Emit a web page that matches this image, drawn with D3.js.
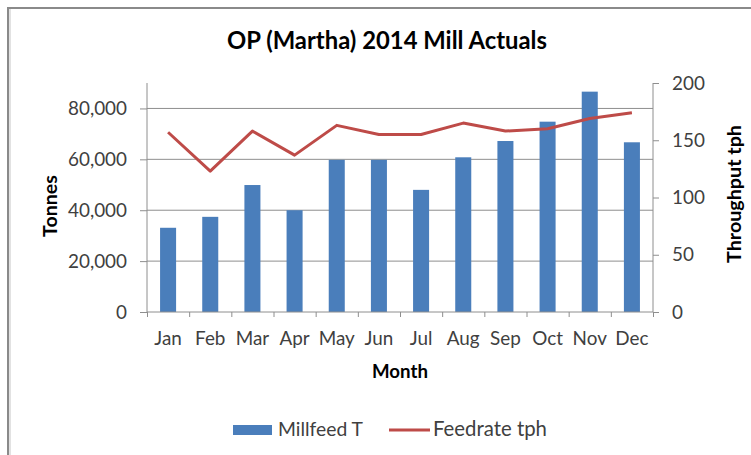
<!DOCTYPE html>
<html><head><meta charset="utf-8">
<script src="https://cdn.jsdelivr.net/npm/d3@7/dist/d3.min.js"></script>
<style>body{margin:0;background:#fff}text{font-family:Lato,"Open Sans",sans-serif}</style>
</head><body>
<svg id="c" width="751" height="455"></svg>
<script>
const months = ["Jan","Feb","Mar","Apr","May","Jun","Jul","Aug","Sep","Oct","Nov","Dec"];
const millfeed = [33100, 37400, 49900, 40000, 59800, 59800, 48000, 60800, 67200, 74800, 86600, 66700];
const feedrate = [157, 123, 158, 137, 163, 155, 155, 165, 158, 160, 169, 174];
const leftTicks = [0, 20000, 40000, 60000, 80000];
const rightTicks = [0, 50, 100, 150, 200];
const titleText = "OP (Martha) 2014 Mill Actuals";
const xTitle = "Month", yLeftTitle = "Tonnes", yRightTitle = "Throughput tph";
const seriesNames = ["Millfeed T", "Feedrate tph"];

const svg = d3.select("#c");
const L = 147, R = 653, T = 83, B = 312;
const barColor = "#4a7ebb", lineColor = "#be4b48", gridColor = "#8e8e8e", tickText = "#404040";

function fit(sel, w) {
  const n = sel.node();
  const fs = parseFloat(sel.attr("font-size"));
  const cur = n.getComputedTextLength();
  sel.attr("font-size", (fs * w / cur).toFixed(2));
  return fs * w / cur;
}

// frame
svg.append("rect").attr("x", 8).attr("y", 8).attr("width", 760).attr("height", 470)
  .attr("fill", "#fff").attr("stroke", "#8a8a8a").attr("stroke-width", 2);
svg.append("line").attr("x1", 10).attr("x2", 10).attr("y1", 9).attr("y2", 455).attr("stroke", "#d8d8d8").attr("stroke-width", 1.5);

const x = d3.scaleBand().domain(months).range([L, R]).paddingInner(0.62).paddingOuter(0.31);
const xb = d3.scaleLinear().domain([0, months.length]).range([L, R]);
const yL = d3.scaleLinear().domain([0, 90000]).range([B, T]);
const yR = d3.scaleLinear().domain([0, 200]).range([B, T]);

// gridlines
svg.append("g").selectAll("line").data(leftTicks.filter(d => d > 0)).join("line")
  .attr("x1", L).attr("x2", R).attr("y1", d => yL(d)).attr("y2", d => yL(d))
  .attr("stroke", gridColor).attr("stroke-width", 1);

// bars
svg.append("g").selectAll("rect").data(months).join("rect")
  .attr("x", d => x(d)).attr("width", x.bandwidth())
  .attr("y", (d, i) => yL(millfeed[i])).attr("height", (d, i) => B - yL(millfeed[i]))
  .attr("fill", barColor);

// line
const line = d3.line().x((d, i) => x(months[i]) + x.bandwidth() / 2).y(d => yR(d));
svg.append("path").datum(feedrate).attr("d", line).attr("fill", "none")
  .attr("stroke", lineColor).attr("stroke-width", 3).attr("stroke-linejoin", "round");

function styleAxis(g) {
  g.selectAll("path,line").attr("stroke", gridColor).attr("stroke-width", 1);
  g.selectAll("text").attr("fill", tickText).attr("font-size", 17).attr("font-family", "Lato");
}

// left axis
const gl = svg.append("g").attr("transform", `translate(${L},0)`)
  .call(d3.axisLeft(yL).tickValues(leftTicks).tickSize(7).tickSizeOuter(0).tickPadding(13).tickFormat(d3.format(",")));
gl.select(".domain").attr("d", `M0,${T}V${B}`);
styleAxis(gl);
// right axis
const gr = svg.append("g").attr("transform", `translate(${R},0)`)
  .call(d3.axisRight(yR).tickValues(rightTicks).tickSize(6).tickSizeOuter(0).tickPadding(13));
gr.select(".domain").attr("d", `M0,${T}V${B}`);
styleAxis(gr);
// bottom boundary ticks
const gb = svg.append("g").attr("transform", `translate(0,${B})`)
  .call(d3.axisBottom(xb).tickValues(d3.range(months.length + 1)).tickSize(5).tickSizeOuter(0).tickFormat(""));
gb.select(".domain").attr("d", `M${L},0H${R}`);
styleAxis(gb);
// bottom labels
const gx = svg.append("g").attr("transform", `translate(0,${B})`)
  .call(d3.axisBottom(x).tickSize(0).tickPadding(20));
gx.select(".domain").remove();
styleAxis(gx);

// fit tick font size
const probe = gl.selectAll("text").filter(d => d === 80000);
const fs = fit(probe, 59);
svg.selectAll(".tick text").attr("font-size", fs.toFixed(2));

// title
const tt = svg.append("text").attr("x", 387).attr("y", 49).attr("text-anchor", "middle")
  .attr("font-weight", "bold").attr("font-size", 21).attr("fill", "#000").text(titleText);
fit(tt, 320);
// axis titles
const mt = svg.append("text").attr("x", 400).attr("y", 378).attr("text-anchor", "middle")
  .attr("font-weight", "bold").attr("font-size", 16).attr("fill", "#000").text(xTitle);
fit(mt, 56);
const lt = svg.append("text").attr("transform", "translate(57,206) rotate(-90)").attr("text-anchor", "middle")
  .attr("font-weight", "bold").attr("font-size", 16).attr("fill", "#000").text(yLeftTitle);
fit(lt, 62);
const rt = svg.append("text").attr("transform", "translate(741,194) rotate(-90)").attr("text-anchor", "middle")
  .attr("font-weight", "bold").attr("font-size", 16).attr("fill", "#000").text(yRightTitle);
fit(rt, 138);

// legend
const lg = svg.append("g");
lg.append("rect").attr("x", 233).attr("y", 425).attr("width", 39).attr("height", 10).attr("fill", barColor);
const l1 = lg.append("text").attr("x", 278).attr("y", 436).attr("font-size", 17).attr("fill", tickText).text(seriesNames[0]);
fit(l1, 85);
lg.append("line").attr("x1", 389).attr("x2", 430).attr("y1", 430).attr("y2", 430).attr("stroke", lineColor).attr("stroke-width", 3);
const l2 = lg.append("text").attr("x", 433).attr("y", 436).attr("font-size", 17).attr("fill", tickText).text(seriesNames[1]);
fit(l2, 114);
</script>
</body></html>
